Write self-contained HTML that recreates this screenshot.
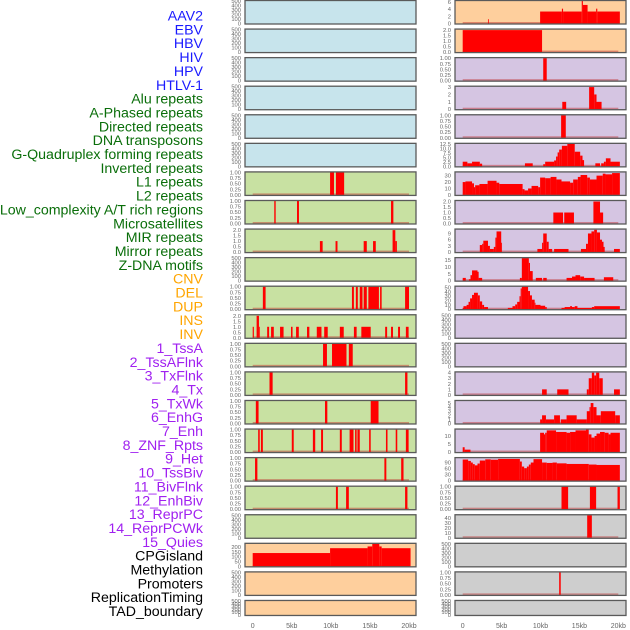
<!DOCTYPE html>
<html><head><meta charset="utf-8"><style>
html,body{margin:0;padding:0;background:#fff;}
svg{display:block;font-family:"Liberation Sans",sans-serif;}
</style></head><body>
<svg id="chart" width="630" height="630" viewBox="0 0 630 630" xmlns="http://www.w3.org/2000/svg"></svg>
<script>
const trackLabels = ["AAV2","EBV","HBV","HIV","HPV","HTLV-1","Alu repeats","A-Phased repeats","Directed repeats","DNA transposons","G-Quadruplex forming repeats","Inverted repeats","L1 repeats","L2 repeats","Low_complexity A/T rich regions","Microsatellites","MIR repeats","Mirror repeats","Z-DNA motifs","CNV","DEL","DUP","INS","INV","1_TssA","2_TssAFlnk","3_TxFlnk","4_Tx","5_TxWk","6_EnhG","7_Enh","8_ZNF_Rpts","9_Het","10_TssBiv","11_BivFlnk","12_EnhBiv","13_ReprPC","14_ReprPCWk","15_Quies","CPGisland","Methylation","Promoters","ReplicationTiming","TAD_boundary"];
const labelGroups = ["v","v","v","v","v","v","r","r","r","r","r","r","r","r","r","r","r","r","r","c","c","c","c","c","h","h","h","h","h","h","h","h","h","h","h","h","h","h","h","o","o","o","o","o"];
const xTickLabels = ["0","5kb","10kb","15kb","20kb"];
const xTickValues = [0,5,10,15,20];
// panel background groups: left column 22 then right column 22
const panelBg = ["b","b","b","b","b","b","g","g","g","g","g","g","g","g","g","g","g","g","g","o","o","o",
                 "o","o","p","p","p","p","p","p","p","p","p","p","p","p","p","p","p","y","y","y","y","y"];
const panelYMax = [500,500,500,500,500,500,1,1,2.05,500,1,2.05,1,1,1,1,1,1,500,232,500,500,
                   6.3,2.05,1,3.05,1,12.6,35,2.05,10.9,16.5,52,500,500,4.05,5.5,14,112,1,45,500,1,500];
const T500 = ["0","100","200","300","400","500"];
const T1 = ["0.00","0.25","0.50","0.75","1.00"];
const T2 = ["0.0","0.5","1.0","1.5","2.0"];
const panelTicks = [T500,T500,T500,T500,T500,T500,T1,T1,T2,T500,T1,T2,T1,T1,T1,T1,T1,T1,T500,["0","50","100","150","200"],T500,T500,
  ["0","2","4","6"],T2,T1,["0","1","2","3"],T1,["0.0","2.5","5.0","7.5","10.0","12.5"],["0","10","20","30"],T2,["0","3","6","9"],["0","5","10","15"],["0","10","20","30","40","50"],T500,T500,["0","1","2","3","4"],["0","1","2","3","4","5"],["0","5","10"],["0","30","60","90"],T1,["0","10","20","30","40"],T500,T1,T500];
// segments: [startKb, endKb, value]
const panelSegments = [
 [],[],[],[],[],[],
 [[9.9,10.4,1],[10.65,11.7,1]],
 [[2.76,2.94,1],[5.67,5.92,1],[17.7,18.0,1]],
 [[8.6,8.95,1],[10.6,10.85,1],[14.2,14.6,1],[15.4,15.75,1],[17.9,18.25,2],[18.25,18.45,1]],
 [],
 [[1.3,1.65,1],[12.7,12.95,1],[13.2,13.45,1],[13.7,14.05,1],[14.2,14.6,1],[14.8,16.15,1],[16.3,16.5,1],[19.5,20,1]],
 [[0,0.15,1],[0.5,0.8,2],[0.8,0.85,1],[1.85,2.1,1],[2.35,2.7,1],[3.5,3.95,1],[4.9,5.1,1],[5.55,5.9,1],[6.95,7.25,1],[8.2,8.8,1],[9.15,9.6,1],[11.15,11.65,1],[12.95,13.3,1],[13.9,15.1,1],[16.95,17.2,1],[17.7,17.95,1],[18.6,18.85,1],[19.6,19.95,1]],
 [[9.0,9.5,1],[10.15,12.0,1],[12.3,12.8,1]],
 [[2.15,2.55,1],[19.5,19.8,1]],
 [[0.4,0.75,1],[9.25,9.55,1],[15.1,16.1,1]],
 [[0.7,0.9,1],[1.05,1.3,1],[5.0,5.25,1],[7.7,8.0,1],[8.75,9.0,1],[11.15,11.4,1],[12.4,12.9,1],[13.1,13.3,1],[13.4,13.7,1],[14.9,15.1,1],[17.05,17.25,1],[18.3,18.5,1],[19.6,19.95,1]],
 [[0.3,0.6,1],[16.85,17.1,1],[19.0,19.3,1]],
 [[10.65,10.9,1],[11.95,12.3,1],[19.5,19.8,1]],
 [],
 [[0,9.9,137],[9.9,14.7,187],[14.7,15.3,205],[15.3,16.2,232],[16.2,16.5,205],[16.5,20.2,187]],
 [],[],
 // right column
 [[3.25,3.35,1.2],[9.95,12.75,3.35],[12.75,12.9,4.15],[12.9,15.3,3.35],[15.3,15.45,6.3],[15.45,16.05,5.2],[16.05,17.15,3.35],[17.15,17.3,4.15],[17.3,20.2,3.35]],
 [[0,10.2,2]],
 [[10.35,10.8,1]],
 [[12.8,13.3,1],[16.25,16.9,3],[16.9,17.2,2],[17.2,17.85,1]],
 [[12.65,13.25,1]],
 [[0,0.6,2.6],[0.6,1.2,1.7],[1.2,2.2,2.6],[2.2,2.5,1.5],[8.0,9.0,1.7],[10.35,10.6,1.2],[10.6,11.75,2.6],[11.75,12.0,3.3],[12.0,12.2,5.5],[12.2,12.4,7.8],[12.4,12.75,9.4],[12.75,13.45,11.5],[13.45,14.4,12.6],[14.4,15.1,8.2],[15.1,15.4,6],[15.4,15.6,3.5],[17.05,17.65,1.7],[17.8,18.15,1.7],[18.15,18.4,2.6],[18.4,19.0,4.5],[19.0,20.2,2.6]],
 [[0,0.35,20],[0.35,1.2,21],[1.2,1.45,18],[1.45,1.6,12],[1.6,2.15,15],[2.15,3.2,17],[3.2,4.35,22],[4.35,4.7,19],[4.7,7.7,17],[7.7,7.95,9],[7.95,8.4,7],[8.4,8.85,10],[8.85,9.7,14],[9.7,9.95,12],[9.95,10.6,27],[10.6,11.3,26],[11.3,12.05,28],[12.05,12.7,24],[12.7,13.8,21],[13.8,14.2,19],[14.2,14.8,24],[14.8,15.15,28],[15.15,16.0,31],[16.0,16.35,27],[16.35,17.2,24],[17.2,18.0,30],[18.0,18.35,33],[18.35,19.2,32],[19.2,20.2,34]],
 [[11.65,12.9,1],[13.05,14.3,1],[16.8,17.65,2],[17.65,18.05,1]],
 [[2.2,2.5,3.4],[2.5,2.65,4],[2.65,3.25,5.5],[3.25,3.5,3],[3.5,4.0,1.5],[4.0,4.2,2.5],[4.2,4.35,7],[4.35,4.95,10],[4.95,5.05,4.5],[9.6,10.2,1.5],[10.2,10.35,4.5],[10.35,10.8,9],[10.8,11.05,5],[11.05,11.5,1.5],[11.75,13.6,1.5],[15.2,15.85,1.5],[15.85,16.1,4],[16.1,16.55,9],[16.55,16.9,10],[16.9,17.25,10.8],[17.25,17.65,9.5],[17.65,17.9,6],[17.9,18.1,5],[18.1,18.25,2.5],[19.45,20.2,1.5]],
 [[0,0.4,2],[0.8,1.0,1],[1.0,1.2,4],[1.2,1.9,7.5],[1.9,2.05,6.5],[2.05,2.5,2],[7.35,7.6,2],[7.6,8.5,16.5],[8.5,8.65,13],[8.65,9.0,7],[9.4,10.2,2],[10.35,10.8,2],[13.35,14.05,2],[14.05,14.5,3],[14.5,15.1,4],[15.1,15.6,3],[15.6,16.95,2],[18.15,19.35,2.5]],
 [[0,0.1,3],[0.1,0.5,7],[0.5,0.75,10],[0.75,0.95,17],[0.95,1.2,25],[1.2,1.45,33],[1.45,1.95,38],[1.95,2.2,32],[2.2,2.5,18],[2.5,2.75,10],[2.75,3.25,5],[5.8,6.4,3],[6.4,6.75,7],[6.75,7.0,11],[7.0,7.3,17],[7.3,7.45,30],[7.45,7.6,48],[7.6,8.4,52],[8.4,8.65,42],[8.65,8.9,32],[8.9,9.25,22],[9.25,9.35,15],[9.35,10.0,10],[10.0,10.6,8],[10.6,10.8,5],[12.7,13.1,3],[13.1,13.8,5],[13.8,14.05,7],[14.05,14.4,5],[14.4,14.75,7],[14.75,16.6,3],[16.6,16.9,5],[16.9,20.2,7]],
 [],[],
 [[10.2,10.8,1],[12.15,13.6,1],[15.95,16.2,1],[16.2,16.6,3],[16.6,16.9,4],[16.9,17.15,3.5],[17.15,17.55,4],[17.55,18.0,3],[19.45,20.2,1]],
 [[9.95,10.2,1],[10.2,10.7,2],[10.7,11.75,1],[11.75,12.5,2],[12.6,13.35,1],[13.35,14.65,2],[14.65,15.95,1],[15.95,16.3,3],[16.3,16.45,4],[16.45,16.8,5],[16.8,17.2,4],[17.2,17.75,2],[17.75,19.6,3],[19.6,20.2,2]],
 [[0,0.25,3],[0.25,1.0,1.5],[9.95,10.45,12],[10.45,10.6,11],[10.6,10.8,12],[10.8,12.0,13.5],[12.0,13.35,12.5],[13.35,13.8,12],[13.8,14.5,12.5],[14.5,15.85,13.5],[15.85,16.2,14],[16.2,16.55,11],[16.55,16.95,9],[16.95,17.2,10],[17.2,17.65,11.5],[17.65,18.25,12.5],[18.25,18.75,12],[18.75,19.0,11],[19.0,20.2,12]],
 [[0,0.7,105],[0.7,1.05,98],[1.05,1.3,90],[1.3,1.55,82],[1.55,1.9,76],[1.9,2.2,85],[2.2,2.9,100],[2.9,3.6,106],[3.6,4.55,104],[4.55,7.35,108],[7.35,7.6,95],[7.6,7.9,70],[7.9,8.25,62],[8.25,8.5,70],[8.5,8.75,80],[8.75,9.1,90],[9.1,10.2,107],[10.2,10.8,90],[10.8,11.55,88],[11.55,12.1,90],[12.1,13.35,86],[13.35,16.2,83],[16.2,17.2,80],[17.2,20.2,78]],
 [[12.7,13.55,1],[16.35,17.15,1],[19.9,20.2,1]],
 [[16.0,16.6,45]],
 [],
 [[12.4,12.6,1]],
 []
];
const NS = "http://www.w3.org/2000/svg";
const svg = document.getElementById("chart");
function mk(tag, attrs, parent){const e=document.createElementNS(NS,tag);for(const k in attrs)e.setAttribute(k,attrs[k]);(parent||svg).appendChild(e);return e;}
const labelColor = {v:"#1a1aff", r:"#0a6e0a", c:"#ffa500", h:"#a020f0", o:"#000000"};
const bgColor = {b:"#c7e4ec", g:"#c8e1a2", o:"#fecf9d", p:"#d5c5e2", y:"#cecece"};
// labels
trackLabels.forEach((name,i)=>{
  const t = mk("text",{x:203,y:20.5+i*13.85,"text-anchor":"end","font-size":14.2,fill:labelColor[labelGroups[i]]});
  
  
  t.textContent = name;
});
const colX = [{left:245,right:416,x0:252.7,x20:409},{left:455,right:626,x0:462.7,x20:618.3}];
function rowGeom(r){const top = r*28.57; const h = r===21?16:24.5; return {top, h};}
panelBg.forEach((bg,i)=>{
  const col = colX[i<22?0:1]; const r = i%22; const g = rowGeom(r);
  const xs = kb => col.x0 + kb/20*(col.x20-col.x0);
  const bottom = g.top+g.h-1, topY = g.top+1;
  const ys = v => bottom - v/panelYMax[i]*(bottom-topY);
  const grp = mk("g",{});
  
  
  const bgRect = mk("rect",{x:col.left,y:g.top,width:col.right-col.left,height:g.h,fill:bgColor[bg]},grp);
  
  
  const segs = panelSegments[i];
  if(segs.length){
    const base = mk("rect",{x:xs(0),y:bottom-1.5,width:xs(20)-xs(0),height:1.5,fill:"rgba(190,40,40,0.45)"},grp);
    
    
  }
  segs.forEach(s=>{
    const v = Math.min(s[2], panelYMax[i]);
    const y = Math.max(ys(v), topY);
    const b = mk("rect",{x:xs(s[0]),y:y,width:Math.max(xs(s[1])-xs(s[0]),0.8),height:bottom-y,fill:"#ff0000"},grp);
    
    
  });
  const frame = mk("rect",{x:col.left,y:g.top+0.5,width:col.right-col.left,height:g.h-1,fill:"none",stroke:"#5a5a5a","stroke-width":1.3},grp);
  
  
  const ticks = panelTicks[i];
  ticks.forEach(lbl=>{
    const v = parseFloat(lbl);
    const t = mk("text",{x:col.left-4,y:ys(v)+2,"text-anchor":"end","font-size":5.8,fill:"#666"},grp);
    
    
    t.textContent = lbl;
  });
});
colX.forEach(col=>{
  xTickValues.forEach((v,j)=>{
    const t = mk("text",{x:col.x0 + v/20*(col.x20-col.x0),y:628,"text-anchor":"middle","font-size":7,fill:"#666"});
    
    
    t.textContent = xTickLabels[j];
  });
});
</script>
</body></html>
